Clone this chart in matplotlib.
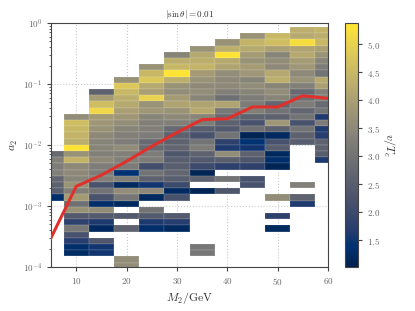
import numpy as np
import matplotlib
matplotlib.use("Agg")
import matplotlib.pyplot as plt

plt.rcParams["font.family"] = "serif"
plt.rcParams["font.serif"] = ["cmr10"]
plt.rcParams["mathtext.fontset"] = "cm"
plt.rcParams["axes.unicode_minus"] = False
plt.rcParams["axes.formatter.use_mathtext"] = True

N = np.nan

# M_2 bin centres (GeV), width 5
m2_centers = [5, 10, 15, 20, 25, 30, 35, 40, 45, 50, 55, 60]
# index of the first filled a_2 row (row 0 = top) for every column
first_row = [20, 14, 10, 8, 6, 4, 3, 2, 1, 1, 0, 0]

# v/T_c in each cell, read top to bottom
col_05 = [2.8, 3.3, 3.2, 3.3, 2.7, 2.6, 2.5, 1.3]
col_10 = [3.6, 4.6, 4.5, 4.4, 4.3, 5.3, 3.7, 4.4, 3.5, 3.5, 3.4, 3.7, 3.3, 3.9,
          2.9, 3.7, 2.4, 1.8, 3.1, 2.2, 1.7, 1.3, 1.25]
col_15 = [2.6, 3.9, 4.6, 5.1, 3.9, 3.8, 3.7, 3.5, 3.4, 3.4, 3.3, 3.5, 3.2, 3.2,
          3.3, 2.2, 3.0, 2.2, 1.3, 3.6, 2.4, 1.6, 1.2, N, 2.3, 1.5, 1.5]
col_20 = [3.7, 4.8, 4.5, 4.3, 4.2, 4.0, 3.8, 3.6, 3.4, 3.3, 3.2, 3.6, 3.3, 3.3,
          3.2, 1.4, 3.3, 1.2, 3.6, 3.1, 1.2, N, 2.4, N, 2.6, N, N, N, N, 3.6, 3.6]
col_25 = [3.7, 4.5, 4.8, 4.2, 4.0, 5.0, 3.7, 3.8, 3.4, 3.3, 3.3, 3.2, 2.8, 2.8,
          3.2, 3.2, 2.1, 3.0, 2.6, 1.5, 3.5, 1.2, N, 3.0, 2.4, 1.6, 1.3]
col_30 = [3.4, 4.3, 4.5, 5.3, 4.3, 3.7, 3.6, 3.9, 4.1, 3.7, 3.5, 3.3, 2.8, 2.6,
          2.6, 2.7, 2.3, 2.5, 2.5, 2.7, 2.5, 2.0, 1.2, 2.2, N, N, 2.4, 1.7, 1.2]
col_35 = [3.7, 4.2, 4.3, 4.4, 3.9, 3.7, 3.5, 3.6, 3.4, 4.1, 4.2, 3.4, 3.2, 2.5,
          2.2, 3.0, 3.2, 2.6, 2.4, 2.0, 1.1, 2.6, N, 1.1, N, N, N, N, N, N, N,
          N, 3.1, 3.1]
col_40 = [3.7, 4.3, 5.3, 4.2, 4.1, 3.6, 3.5, 3.5, 3.3, 2.9, 4.1, 3.1, 2.8, 2.6,
          2.4, 3.0, 1.8, 1.6, 3.6, 2.5, 1.8, N, 3.0, N, 2.3]
col_45 = [3.7, 4.4, 4.2, 3.9, 3.7, 3.9, 3.8, 3.4, 3.6, 3.4, 3.2, 3.2, 3.3, 2.6,
          2.2, 2.9, 1.1, 1.4, 1.5, 2.6, 2.3, 1.8, N, 2.2, 2.2]
col_50 = [4.5, 4.6, 4.0, 3.4, 3.6, 3.5, 4.2, 4.3, 3.4, 3.6, 3.4, 2.7, 3.0, 2.6,
          3.8, 2.6, 1.2, 2.2, 2.5, 1.2, 1.3, 1.1, N, N, N, N, 3.6, N, N, 1.8,
          N, 1.2]
col_55 = [4.3, 4.2, 5.2, 4.1, 4.2, 3.9, 3.8, 3.5, 3.7, 3.3, 2.8, 2.9, 3.2, 2.7,
          3.0, 2.2, 3.0, 2.6, 2.5, N, N, N, N, N, N, 3.3, N, 2.6, 1.6]
col_60 = [4.4, 4.3, 4.5, 4.0, 3.7, 3.4, 3.2, 3.0, 4.2, 4.0, 3.3, 3.2, 2.8, 3.0,
          1.6, 3.2, 1.6, 1.7, 2.6, 2.6, 2.5, 1.6]

# red curve
line_m2 = [5, 10, 15, 20, 25, 30, 35, 40, 45, 50, 55, 60]
line_a2 = [3.0e-4, 2.1e-3, 3.2e-3, 5.4e-3, 9.5e-3, 1.6e-2, 2.6e-2, 2.7e-2,
           4.2e-2, 4.2e-2, 6.4e-2, 5.8e-2]

columns = [col_05, col_10, col_15, col_20, col_25, col_30, col_35, col_40,
           col_45, col_50, col_55, col_60]

n_rows = 39
x_edges = np.append(np.array(m2_centers) - 2.5, m2_centers[-1] + 2.5)
y_edges = 10 ** np.linspace(-0.066, -0.066 - 0.1016 * n_rows, n_rows + 1)

Z = np.full((n_rows, len(m2_centers)), np.nan)
for j, col in enumerate(columns):
    Z[first_row[j]:first_row[j] + len(col), j] = col
Z = np.ma.masked_invalid(Z)

fig = plt.figure(figsize=(4.15, 3.11), dpi=100)
ax = fig.add_axes([0.1229, 0.1415, 0.6675, 0.7846])
cax = fig.add_axes([0.8313, 0.1415, 0.0306, 0.7846])

mesh = ax.pcolormesh(x_edges, y_edges, Z, cmap="cividis", vmin=1.02, vmax=5.38,
                     edgecolors=(1, 1, 1, 0.07), linewidth=0.3)
ax.plot(line_m2, line_a2, color="#e0302c", lw=2.2, zorder=3)

ax.set_yscale("log")
ax.set_xlim(5, 60)
ax.set_ylim(1e-4, 1)
ax.set_axisbelow(True)
ax.grid(True, which="major", ls=":", color="#c8c8c8", lw=0.8)

for s in ax.spines.values():
    s.set_color("#444444")
ax.tick_params(labelsize=6.5, labelcolor="#666666", color="#444444", length=3)
ax.tick_params(which="minor", color="#444444", length=1.8)

ax.set_xlabel(r"$M_2/\mathrm{GeV}$", fontsize=8.5, color="#333333", labelpad=2)
ax.set_ylabel(r"$a_2$", fontsize=8.5, color="#333333", labelpad=2)
ax.set_title(r"$|\sin\theta| = 0.01$", fontsize=6.5, pad=4, color="#333333")

cb = fig.colorbar(mesh, cax=cax)
cb.set_ticks([1.5, 2.0, 2.5, 3.0, 3.5, 4.0, 4.5, 5.0])
cb.ax.tick_params(labelsize=6.5, labelcolor="#666666", color="#444444", length=3)
cb.outline.set_edgecolor("#444444")
cb.set_label(r"$v/T_c$", fontsize=8.5, color="#333333", rotation=270, labelpad=12)

fig.savefig("out.png", dpi=100)
